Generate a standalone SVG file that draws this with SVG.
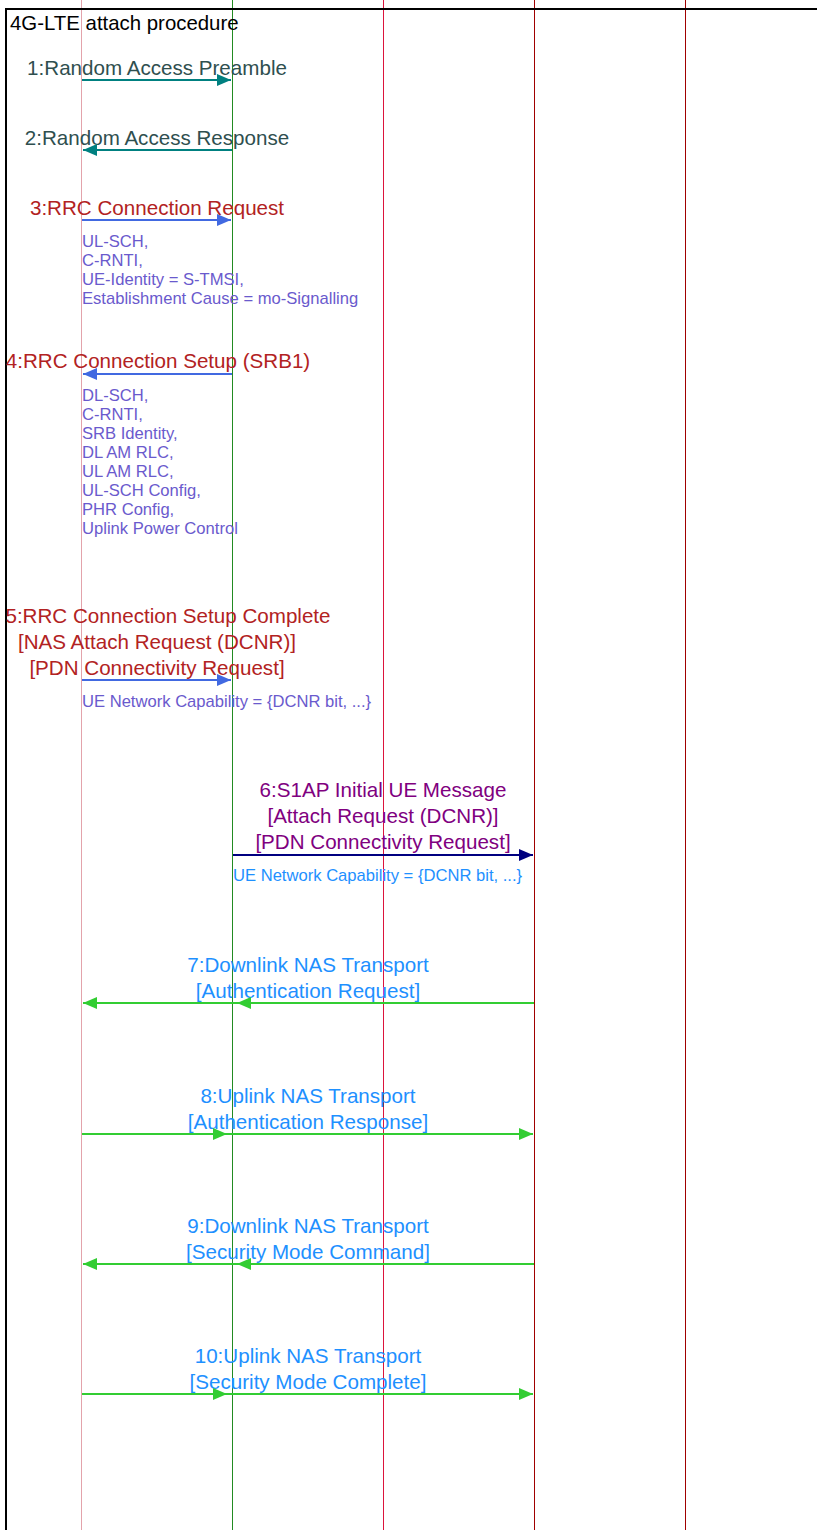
<svg xmlns="http://www.w3.org/2000/svg" width="817" height="1530" viewBox="0 0 817 1530">
<style>
text{font-family:"Liberation Sans",Arial,sans-serif}
.lbl{font-size:20.6px;text-anchor:middle}
.note{font-size:16.6px}
.ll{stroke-width:1;fill:none}
.msg{stroke-width:2.2;fill:none}
.c12{fill:#2F4F4F}
.c345{fill:#B22222}
.n345{fill:#6A5ACD}
.c6{fill:#800080}
.blue{fill:#1E90FF}
</style>
<defs>
<marker id="aTeal" viewBox="0 0 14 12" refX="14" refY="6" markerWidth="14" markerHeight="12" markerUnits="userSpaceOnUse" orient="auto"><path d="M0,0 L14,6 L0,12 z" fill="#008080"/></marker>
<marker id="aRoyal" viewBox="0 0 14 12" refX="14" refY="6" markerWidth="14" markerHeight="12" markerUnits="userSpaceOnUse" orient="auto"><path d="M0,0 L14,6 L0,12 z" fill="#4169E1"/></marker>
<marker id="aNavy" viewBox="0 0 14 12" refX="14" refY="6" markerWidth="14" markerHeight="12" markerUnits="userSpaceOnUse" orient="auto"><path d="M0,0 L14,6 L0,12 z" fill="#000080"/></marker>
<marker id="aGreen" viewBox="0 0 14 12" refX="14" refY="6" markerWidth="14" markerHeight="12" markerUnits="userSpaceOnUse" orient="auto"><path d="M0,0 L14,6 L0,12 z" fill="#32CD32"/></marker>
</defs>
<rect x="0" y="0" width="817" height="1530" fill="#FFFFFF"/>
<g id="lifelines">
<g id="ue"><line class="ll" x1="81.5" y1="0" x2="81.5" y2="1530" stroke="#E3A3AB"/></g>
<g id="enb"><line class="ll" x1="232.5" y1="0" x2="232.5" y2="1530" stroke="#228B22"/></g>
<g id="node3"><line class="ll" x1="383.5" y1="0" x2="383.5" y2="1530" stroke="#DC143C"/></g>
<g id="mme"><line class="ll" x1="534.5" y1="0" x2="534.5" y2="1530" stroke="#A00000"/></g>
<g id="node5"><line class="ll" x1="685.5" y1="0" x2="685.5" y2="1530" stroke="#A00000"/></g>
</g>
<g id="frame">
<path d="M6,1530 L6,9 L817,9" fill="none" stroke="#000000" stroke-width="2"/>
<text x="10" y="30" font-size="20.4" fill="#000000">4G-LTE attach procedure</text>
</g>
<g id="connectors">
<g id="m1"><text class="lbl c12" x="157" y="75">1:Random Access Preamble</text><path class="msg" d="M82,80 L231,80" stroke="#008080" marker-end="url(#aTeal)"/></g>
<g id="m2"><text class="lbl c12" x="157" y="145">2:Random Access Response</text><path class="msg" d="M232,150 L83,150" stroke="#008080" marker-end="url(#aTeal)"/></g>
<g id="m3"><text class="lbl c345" x="157" y="215">3:RRC Connection Request</text><path class="msg" d="M82,220 L231,220" stroke="#4169E1" marker-end="url(#aRoyal)"/>
<text class="note n345" x="82" y="247">UL-SCH,</text>
<text class="note n345" x="82" y="266">C-RNTI,</text>
<text class="note n345" x="82" y="285">UE-Identity = S-TMSI,</text>
<text class="note n345" x="82" y="304">Establishment Cause = mo-Signalling</text></g>
<g id="m4"><text class="lbl c345" x="158" y="368">4:RRC Connection Setup (SRB1)</text><path class="msg" d="M232,374 L83,374" stroke="#4169E1" marker-end="url(#aRoyal)"/>
<text class="note n345" x="82" y="401">DL-SCH,</text>
<text class="note n345" x="82" y="420">C-RNTI,</text>
<text class="note n345" x="82" y="439">SRB Identity,</text>
<text class="note n345" x="82" y="458">DL AM RLC,</text>
<text class="note n345" x="82" y="477">UL AM RLC,</text>
<text class="note n345" x="82" y="496">UL-SCH Config,</text>
<text class="note n345" x="82" y="515">PHR Config,</text>
<text class="note n345" x="82" y="534">Uplink Power Control</text></g>
<g id="m5"><text class="lbl c345" x="168" y="623">5:RRC Connection Setup Complete</text>
<text class="lbl c345" x="157" y="649">[NAS Attach Request (DCNR)]</text>
<text class="lbl c345" x="157" y="675">[PDN Connectivity Request]</text>
<path class="msg" d="M82,680 L231,680" stroke="#4169E1" marker-end="url(#aRoyal)"/>
<text class="note n345" x="82" y="707">UE Network Capability = {DCNR bit, ...}</text></g>
<g id="m6"><text class="lbl c6" x="383" y="797">6:S1AP Initial UE Message</text>
<text class="lbl c6" x="383" y="823">[Attach Request (DCNR)]</text>
<text class="lbl c6" x="383" y="849">[PDN Connectivity Request]</text>
<path class="msg" d="M233,855 L533,855" stroke="#000080" marker-end="url(#aNavy)"/>
<text class="note blue" x="233" y="881">UE Network Capability = {DCNR bit, ...}</text></g>
<g id="m7"><text class="lbl blue" x="308" y="972">7:Downlink NAS Transport</text>
<text class="lbl blue" x="308" y="998">[Authentication Request]</text>
<path class="msg" d="M534,1003 L237,1003 L83,1003" stroke="#32CD32" marker-mid="url(#aGreen)" marker-end="url(#aGreen)"/></g>
<g id="m8"><text class="lbl blue" x="308" y="1103">8:Uplink NAS Transport</text>
<text class="lbl blue" x="308" y="1129">[Authentication Response]</text>
<path class="msg" d="M82,1134 L227,1134 L533,1134" stroke="#32CD32" marker-mid="url(#aGreen)" marker-end="url(#aGreen)"/></g>
<g id="m9"><text class="lbl blue" x="308" y="1233">9:Downlink NAS Transport</text>
<text class="lbl blue" x="308" y="1259">[Security Mode Command]</text>
<path class="msg" d="M534,1264 L237,1264 L83,1264" stroke="#32CD32" marker-mid="url(#aGreen)" marker-end="url(#aGreen)"/></g>
<g id="m10"><text class="lbl blue" x="308" y="1363">10:Uplink NAS Transport</text>
<text class="lbl blue" x="308" y="1389">[Security Mode Complete]</text>
<path class="msg" d="M82,1394 L227,1394 L533,1394" stroke="#32CD32" marker-mid="url(#aGreen)" marker-end="url(#aGreen)"/></g>
</g>
</svg>
